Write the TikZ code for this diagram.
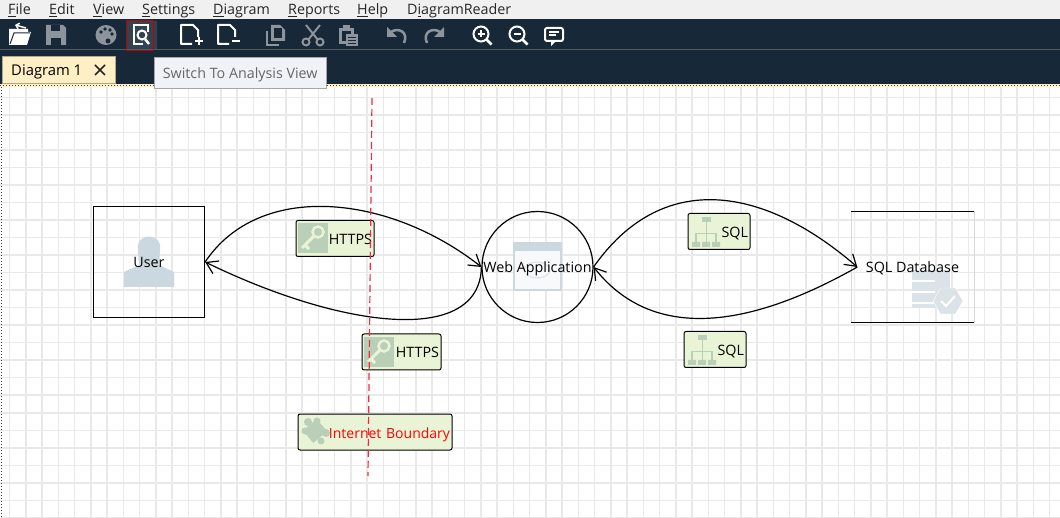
\documentclass[tikz,border=0pt]{standalone}
\usepackage{fontspec}
\setmainfont{Open Sans}
\usetikzlibrary{arrows.meta,shapes.geometric}
\definecolor{barnavy}{HTML}{172838}
\definecolor{menugray}{HTML}{F0F0F0}
\definecolor{gridgray}{HTML}{E9E9E9}
\definecolor{offgray}{HTML}{8D949B}
\definecolor{tabcream}{HTML}{FFEFC4}
\definecolor{tipfill}{HTML}{F1F2F8}
\definecolor{labelgreen}{HTML}{E9F3D6}
\definecolor{icongreen}{HTML}{B9CFB8}
\definecolor{iconblue}{HTML}{CBD8DF}
\definecolor{iconpale}{HTML}{DAE3E8}
\definecolor{boundaryred}{HTML}{F8283C}
\newcommand{\ul}[1]{\underline{#1}}
\tikzset{
  pics/openicon/.style={code={
    \fill[white] (-11,-6) -- (-11,10) -- (7,10) -- (11,-3) -- (8,-3) -- (8,-6) -- cycle;
    \draw[barnavy, line width=1] (-10,9) -- (-6,-2) -- (10,-2);
    \draw[white, line width=1.5, -{Straight Barb[length=3,width=6]}] (6,-7) -- (-5,-10);
  }},
  pics/saveicon/.style={code={
    \fill[offgray] (-10,-10) -- (7,-10) -- (10,-7) -- (10,10) -- (-10,10) -- cycle;
    \fill[barnavy] (-5,-10) rectangle (4,-4);
    \fill[barnavy] (-5,3) rectangle (5,10);
  }},
  pics/paletteicon/.style={code={
    \fill[offgray] (0,0) ellipse (10.5 and 10);
    \fill[barnavy] (-5,-3) circle (1.8) (-1,-6) circle (1.8) (4,-5) circle (1.8) (6,-1) circle (1.8) (2,6) circle (2.5);
  }},
  pics/analysisicon/.style={code={
    \draw[white, line width=2] (7,-3) -- (7,-10) -- (-7,-10) -- (-7,9) -- (2,9);
    \draw[white, line width=2] (1,0) circle (4.5);
    \draw[white, line width=2.5] (4,4) -- (8,9);
  }},
  pics/pageicon/.style={code={
    \draw[white, line width=2, line join=round] (2,9) -- (-9,9) -- (-9,-10) -- (3,-10) -- (8,-5) -- (8,2);
  }},
  pics/copyicon/.style={code={
    \draw[offgray, line width=2.5] (-9,-4) -- (-9,10) -- (3,10);
    \fill[offgray] (-5,-10) -- (4,-10) -- (9,-5) -- (9,6) -- (-5,6) -- cycle;
    \fill[barnavy] (-2,-7) rectangle (6,3);
  }},
  pics/cuticon/.style={code={
    \draw[offgray, line width=2] (-7,-10) -- (5,5) (7,-10) -- (-5,5);
    \draw[offgray, line width=2] (-7,7) circle (3.5) (7,7) circle (3.5);
  }},
  pics/pasteicon/.style={code={
    \fill[offgray] (-9,-7) rectangle (6,9);
    \fill[barnavy] (-6,-4) rectangle (3,6);
    \fill[offgray] (-5,-10) rectangle (2,-4);
    \fill[offgray] (-2,-1) rectangle (10,11);
    \draw[barnavy, line width=1] (0,3) -- (8,3) (0,6) -- (8,6) (0,9) -- (8,9);
  }},
  pics/undoicon/.style={code={
    \draw[offgray, line width=2.5] (-6,-3) .. controls (1,-8) and (12,-3) .. (7,8);
    \fill[offgray] (-10,-8) -- (-10,2) -- (0,2) -- cycle;
  }},
  pics/zoomicon/.style={code={
    \draw[white, line width=2] (-1,-1) circle (7.5);
    \draw[white, line width=2.5] (4.5,4.5) -- (9.5,9.5);
    \draw[white, line width=2] (-4.5,-1) -- (2.5,-1);
  }},
  pics/noteicon/.style={code={
    \draw[white, line width=2, rounded corners=2] (-9,-7) rectangle (9,6);
    \fill[white] (-3,6) -- (-3,11) -- (2,6) -- cycle;
    \draw[white, line width=1.2] (-5,-3) -- (5,-3) (-5,0) -- (2,0);
  }},
  pics/keyicon/.style={code={
    \fill[icongreen] (0,0) rectangle (30,30);
    \draw[labelgreen, line width=2.5] (20,9) circle (5.5);
    \draw[labelgreen, line width=3] (16,13) -- (4,25) (7,22) -- (11,26);
  }},
  pics/treeicon/.style={code={
    \fill[icongreen] (13,1) rectangle (22,6);
    \fill[icongreen] (3,26) rectangle (11,31) (13,26) rectangle (21,31) (23,26) rectangle (31,31);
    \draw[icongreen, line width=1.5] (17.5,6) -- (17.5,26) (7,26) -- (7,17.5) -- (27,17.5) -- (27,26);
  }},
  pics/puzzleicon/.style={code={
    \fill[icongreen, rotate around={40:(13,13)}] (4,5) rectangle (22,21);
    \fill[icongreen] (6,4) circle (4) (15,3) circle (3.5) (3,13) circle (3.5) (24,15) circle (4) (19,23) circle (3.5);
  }},
}
\begin{document}
\begin{tikzpicture}[x=1pt, y=-1pt, font=\fontsize{14.3}{16}\selectfont]
    \tikzstyle{menuitem} = [anchor=base west, inner sep=0pt, text=black!85]
    \tikzstyle{shapebox} = [draw=black, line width=1.2, fill=none, text=black, inner sep=0pt, align=center, text height=13, text depth=1]
    \tikzstyle{labelbox} = [rectangle, rounded corners=2, draw=black, line width=1, fill=labelgreen, minimum height=36, inner xsep=2, inner ysep=0, align=right, text=black, text height=13, text depth=1]
    \tikzstyle{flow} = [line width=1.2, -{Straight Barb[length=11,width=14]}]
    \useasboundingbox (0,0) rectangle (1060,518);

    % Canvas and grid
    \fill[white] (0,0) rectangle (1060,518);
    \begin{scope}
      \clip (0,85) rectangle (1060,518);
      \foreach \gridx in {0,...,65} {
        \draw[gridgray, line width=1.5] ({9.5+16.25*\gridx},85) -- ({9.5+16.25*\gridx},518);
      }
      \foreach \gridy in {0,...,24} {
        \draw[gridgray, line width=1.5] (0,{97.4+17.52*\gridy}) -- (1060,{97.4+17.52*\gridy});
      }
    \end{scope}
    \draw[black!75, line width=1, dotted] (1.5,87) -- (1.5,518);

    % Menu and tool bars
    \fill[menugray] (0,0) rectangle (1060,19);
    \fill[barnavy] (0,19) rectangle (1060,84);
    \draw[black!45!barnavy!70!white, line width=1] (0,49.5) -- (1060,49.5);
    \fill[tabcream] (0,84) rectangle (1060,87);
    \draw[black!70, line width=1, dotted] (0,85.5) -- (1060,85.5);
    \foreach \menuname/\menux in {{\ul{F}ile}/8, {\ul{E}dit}/49, {\ul{V}iew}/93, {\ul{S}ettings}/142, {\ul{D}iagram}/213, {\ul{R}eports}/288, {\ul{H}elp}/357, {D\ul{i}agramReader}/407} {
      \node[menuitem] at (\menux,15) {\menuname};
    }

    % Tool buttons
    \fill[white!12!barnavy] (127,21) rectangle (157,49);
    \draw[red!75!black, line width=1] (126.5,20.5) rectangle (153,51);
    \pic at (20,35) {openicon};
    \pic at (56,35) {saveicon};
    \pic at (106,35) {paletteicon};
    \pic at (141,35) {analysisicon};
    \pic at (190,35) {pageicon};
    \pic at (227,35) {pageicon};
    \draw[white, line width=2] (195,41) -- (203,41) (199,37) -- (199,45);
    \draw[white, line width=2] (232,41) -- (240,41);
    \pic at (276,35) {copyicon};
    \pic at (313,35) {cuticon};
    \pic at (348,35) {pasteicon};
    \pic at (397,35) {undoicon};
    \pic[xscale=-1] at (434,35) {undoicon};
    \pic at (482,35) {zoomicon};
    \draw[white, line width=2] (481,30.5) -- (481,37.5);
    \pic at (518,35) {zoomicon};
    \pic at (554,35) {noteicon};

    % Tab and tooltip
    \node[draw=tabcream!70!black, fill=tabcream, anchor=north west, minimum width=113, minimum height=27, inner sep=0pt, text height=13, text depth=1] (tab) at (2,56) {\hspace{-24pt}\fontsize{14.8}{16}\selectfont Diagram 1};
    \draw[black!85, line width=1.6] (95,65) -- (105,75) (105,65) -- (95,75);
    \node[draw=black!35, fill=tipfill, text=black!60, anchor=north west, minimum width=172, minimum height=31, inner sep=0pt, text height=13, text depth=1] (tooltip) at (154,57) {Switch To Analysis View};

    % Shape icons
    \fill[iconblue] (124,287) -- (124,272) -- (139,265) -- (138,250) .. controls (135,232) and (163,232) .. (160,250) -- (159,265) -- (174,272) -- (174,287) -- cycle;
    \fill[iconblue] (513,242) rectangle (562,291);
    \fill[white!85!iconblue] (515,251) rectangle (560,289);
    \draw[iconpale, line width=1] (537,270) circle (13 and 8);
    \fill[iconpale] (912,270) rectangle (950,308);
    \draw[white, line width=1.5] (912,281) -- (935,281) (912,292) -- (935,292) (912,303) -- (935,303);
    \node[regular polygon, regular polygon sides=6, fill=iconpale, draw=white, minimum size=30, inner sep=0pt] (dbbadge) at (948,301) {};
    \draw[white, line width=2] (941,301) -- (946,306) -- (955,296);

    % Shapes
    \node[shapebox, rectangle, minimum size=111] (user) at (149,262) {User};
    \node[shapebox, circle, minimum size=111] (webapp) at (537.5,267) {Web Application};
    \node[rectangle, inner sep=0pt, minimum width=122, minimum height=111, text height=13, text depth=1] (sqldb) at (912.5,267) {SQL Database};
    \draw[black!15] (sqldb.north west) -- (sqldb.south west) (sqldb.north east) -- (sqldb.south east);
    \draw[line width=1.2] (sqldb.north west) -- (sqldb.north east) (sqldb.south west) -- (sqldb.south east);
    \coordinate (sqldbin) at ([xshift=6]sqldb.west);

    % Connections
    \draw[flow] (user.east) .. controls (260,180) and (390,195) .. (webapp.west);
    \draw[flow] (webapp.west) .. controls (480,345) and (345,330) .. (user.east);
    \draw[flow] (webapp.east) .. controls (660,172) and (760,183) .. (sqldbin);
    \draw[flow] (sqldbin) .. controls (755,325) and (655,345) .. (webapp.east);

    % Labels
    \node[labelbox, minimum width=78, text width=74] (httpsa) at (335,238.5) {HTTPS};
    \node[labelbox, minimum width=79, text width=75] (httpsb) at (401.5,352) {HTTPS};
    \node[labelbox, minimum width=62, text width=58] (sqla) at (719,231.5) {SQL};
    \node[labelbox, minimum width=62, text width=58] (sqlb) at (715,349.5) {SQL};
    \node[labelbox, minimum width=154, text width=150, text=red] (boundarylabel) at (375,432) {\fontsize{14}{16}\selectfont Internet Boundary};
    \pic at (298,223) {keyicon};
    \pic at (364,337) {keyicon};
    \pic at (689,216) {treeicon};
    \pic at (685,334) {treeicon};
    \pic at (302,418) {puzzleicon};

    % Boundary
    \coordinate (boundarytop) at (372,98);
    \coordinate (boundaryend) at (368,476);
    \draw[boundaryred, line width=1.2, dash pattern=on 7 off 4] (boundarytop) -- (boundaryend);
\end{tikzpicture}
\end{document}
